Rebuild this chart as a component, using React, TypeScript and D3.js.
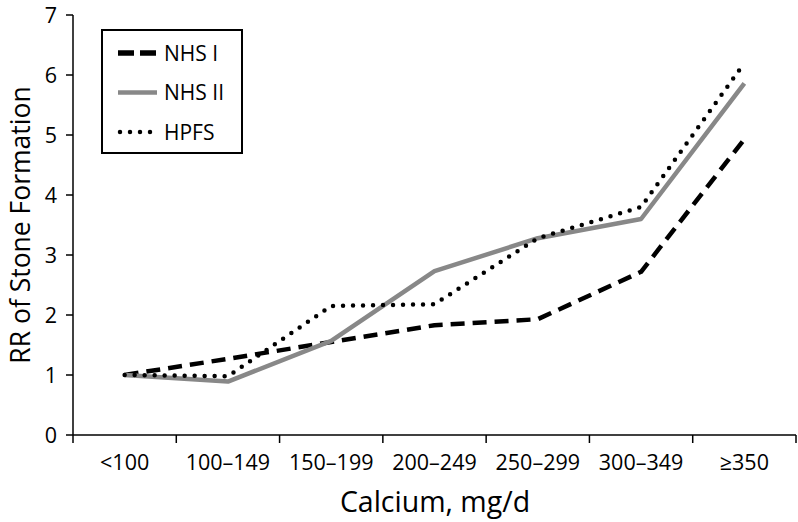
import React from "react";
import * as d3 from "d3";

const categories = ["<100", "100–149", "150–199", "200–249", "250–299", "300–349", "≥350"];
const nhs1 = [1.0, 1.27, 1.55, 1.83, 1.93, 2.72, 4.93];
const nhs2 = [1.0, 0.89, 1.57, 2.73, 3.28, 3.6, 5.86];
const hpfs = [1.0, 0.98, 2.15, 2.18, 3.28, 3.8, 6.2];
const yTicks = [0, 1, 2, 3, 4, 5, 6, 7];

const W = 798;
const H = 522;
const FONT = "'Open Sans', sans-serif";

const series = [
  { name: "NHS I", values: nhs1, stroke: "#000", width: 4.5, dash: "14,8", cap: "butt" },
  { name: "NHS II", values: nhs2, stroke: "#888", width: 4.5, dash: null, cap: "butt" },
  { name: "HPFS", values: hpfs, stroke: "#000", width: 4.5, dash: "0,10", cap: "round" },
];

export default function App() {
  const left = 73;
  const right = 796;
  const top = 15;
  const bottom = 435;
  const x = d3.scaleBand<string>().domain(categories).range([left, right]);
  const y = d3.scaleLinear().domain([0, 7]).range([bottom, top]);
  const line = d3
    .line<number>()
    .x((_, i) => (x(categories[i]) as number) + x.bandwidth() / 2)
    .y((v) => y(v));
  const tickXs = [...categories.map((c) => x(c) as number), right];

  return (
    <svg width={W} height={H} style={{ position: "absolute", left: 0, top: 0, background: "#fff" }}>
      <rect width={W} height={H} fill="#fff" />
      {/* y axis */}
      <line x1={left} x2={left} y1={top} y2={bottom} stroke="#000" strokeWidth={1.5} />
      {yTicks.map((t) => (
        <g key={t}>
          <line x1={left - 7} x2={left} y1={y(t)} y2={y(t)} stroke="#000" strokeWidth={1.5} />
          <text x={left - 16} y={y(t)} dy="0.36em" textAnchor="end" fontFamily={FONT} fontSize={21.5}>
            {t}
          </text>
        </g>
      ))}
      {/* x axis */}
      <line x1={left} x2={right} y1={bottom} y2={bottom} stroke="#000" strokeWidth={1.5} />
      {tickXs.map((tx, i) => (
        <line key={i} x1={tx} x2={tx} y1={bottom} y2={bottom + 8} stroke="#000" strokeWidth={1.5} />
      ))}
      {categories.map((c) => (
        <text
          key={c}
          x={(x(c) as number) + x.bandwidth() / 2}
          y={470}
          textAnchor="middle"
          fontFamily={FONT}
          fontSize={21.5}
        >
          {c}
        </text>
      ))}
      <text x={435} y={512} textAnchor="middle" fontFamily={FONT} fontSize={28.5}>
        Calcium, mg/d
      </text>
      <text
        transform={`translate(30, ${(top + bottom) / 2}) rotate(-90)`}
        textAnchor="middle"
        fontFamily={FONT}
        fontSize={26.5}
      >
        RR of Stone Formation
      </text>
      {/* lines */}
      {series.map((s) => (
        <path
          key={s.name}
          d={line(s.values) as string}
          fill="none"
          stroke={s.stroke}
          strokeWidth={s.width}
          strokeDasharray={s.dash ?? undefined}
          strokeLinecap={s.cap as any}
          strokeLinejoin="round"
        />
      ))}
      {/* legend */}
      <rect x={102} y={30} width={140} height={123} fill="#fff" stroke="#000" strokeWidth={2} />
      {series.map((s, i) => {
        const ly = 53 + i * 39.5;
        return (
          <g key={s.name}>
            <line
              x1={s.cap === "round" ? 120 : 118}
              x2={157}
              y1={ly}
              y2={ly}
              stroke={s.stroke}
              strokeWidth={s.dash === "14,8" ? 5.5 : s.width}
              strokeDasharray={s.dash === "14,8" ? "16,6" : s.dash ?? undefined}
              strokeLinecap={s.cap as any}
            />
            <text x={164} y={ly} dy="0.36em" fontFamily={FONT} fontSize={21}>
              {s.name}
            </text>
          </g>
        );
      })}
    </svg>
  );
}
